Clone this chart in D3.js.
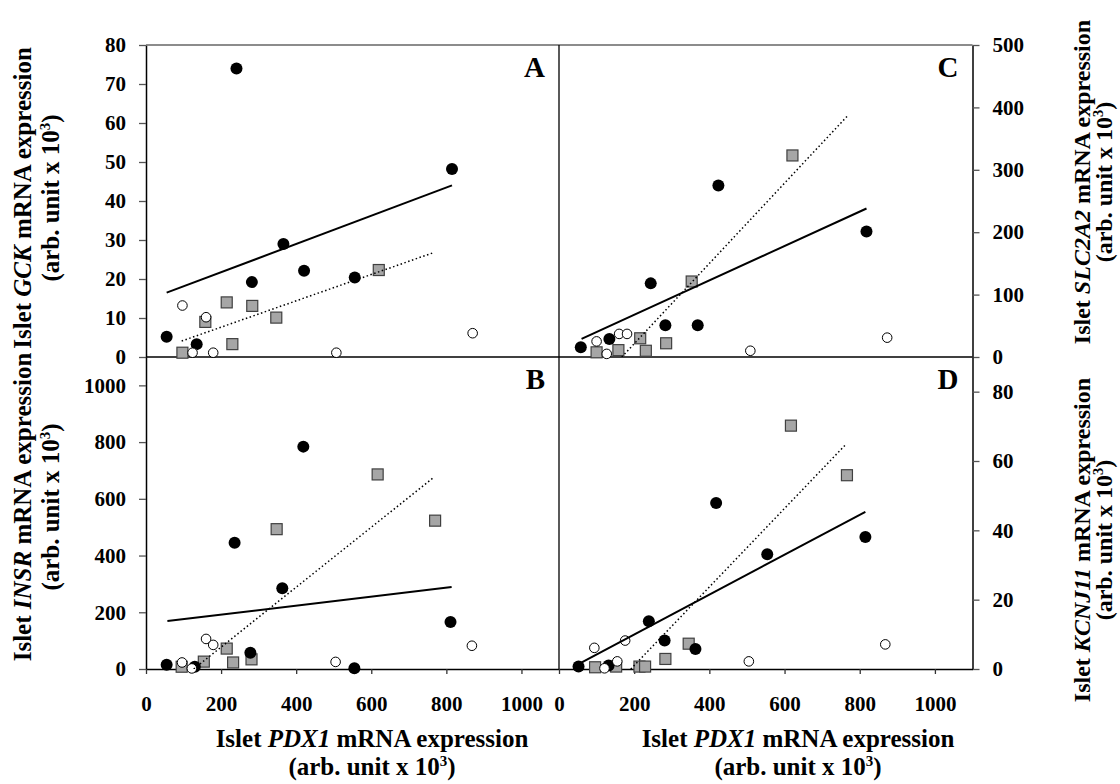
<!DOCTYPE html>
<html><head><meta charset="utf-8">
<script src="https://cdn.jsdelivr.net/npm/d3@7"></script>
<style>
body{margin:0;background:#fff}
text{font-family:"Liberation Serif","Times New Roman",serif;font-weight:bold;fill:#000}
</style>
</head><body>
<svg id="chart" width="1120" height="784"></svg>
<script>
// ---------- data ----------
const xTickValues = [0, 200, 400, 600, 800, 1000];
const gckTicks = [0, 10, 20, 30, 40, 50, 60, 70, 80];
const insrTicks = [0, 200, 400, 600, 800, 1000];
const slcTicks = [0, 100, 200, 300, 400, 500];
const kcnTicks = [0, 20, 40, 60, 80];

// Panel A: GCK vs PDX1
const gckBlack  = [[55,5.2],[135,3.3],[241,74],[282,19.2],[366,29],[421,22.1],[556,20.4],[815,48.2]];
const gckGray   = [[97,1.1],[158,9],[215,14],[230,3.3],[283,13.1],[347,10.1],[620,22.3]];
const gckOpen   = [[97,13.2],[124,1.1],[160,10.2],[179,1.1],[507,1.1],[870,6.1]];
const gckSolidFit  = [[55,16.5],[815,44]];
const gckDottedFit = [[95,4.1],[767,26.8]];

// Panel B: INSR vs PDX1
const insrBlack = [[55,15],[130,8],[236,445],[278,57],[363,285],[419,784],[555,3],[811,166]];
const insrGray  = [[95,8],[154,26],[215,72],[232,23],[281,34],[348,493],[617,686],[770,523]];
const insrOpen  = [[96,23],[122,2],[160,106],[179,85],[505,25],[868,82]];
const insrSolidFit  = [[57,169],[814,289]];
const insrDottedFit = [[127,0],[763,672]];

// Panel C: SLC2A2 vs PDX1
const slcBlack  = [[58,15.5],[134,29],[244,118],[283,51],[369,51],[424,275],[818,201]];
const slcGray   = [[100,7.5],[158,11],[216,30],[231,10],[285,22],[353,121],[621,323]];
const slcOpen   = [[100,25],[127,5],[160,37],[181,37],[509,10],[873,31]];
const slcSolidFit  = [[60,29],[818,238]];
const slcDottedFit = [[167,0],[770,388]];

// Panel D: KCNJ11 vs PDX1
const kcnBlack  = [[52,0.7],[132,1.0],[239,13.8],[281,8.2],[363,5.8],[418,47.9],[554,33.1],[815,38.1]];
const kcnGray   = [[96,0.5],[152,0.7],[214,0.7],[229,0.7],[283,2.9],[345,7.3],[617,70.2],[766,55.9]];
const kcnOpen   = [[94,6.1],[121,0.2],[155,2.2],[176,8.2],[505,2.2],[868,7.1]];
const kcnSolidFit  = [[58,1.8],[815,45.3]];
const kcnDottedFit = [[191,0],[765,65]];

// ---------- layout ----------
const svg = d3.select("#chart");
const L = 146, M = 559, R = 972.5, T = 45, H = 357, B = 669;
const xMax = 1100;

const panels = [
  {id:"A", x:[L,M], y:[H,T], dom:[0,80],   ticks:gckTicks,  side:"left",  bottom:false,
   black:gckBlack, gray:gckGray, open:gckOpen, solid:gckSolidFit, dotted:gckDottedFit},
  {id:"B", x:[L,M], y:[B,H], dom:[0,1100], ticks:insrTicks, side:"left",  bottom:true,
   black:insrBlack, gray:insrGray, open:insrOpen, solid:insrSolidFit, dotted:insrDottedFit},
  {id:"C", x:[M,R], y:[H,T], dom:[0,500],  ticks:slcTicks,  side:"right", bottom:false,
   black:slcBlack, gray:slcGray, open:slcOpen, solid:slcSolidFit, dotted:slcDottedFit},
  {id:"D", x:[M,R], y:[B,H], dom:[0,90],   ticks:kcnTicks,  side:"right", bottom:true,
   black:kcnBlack, gray:kcnGray, open:kcnOpen, solid:kcnSolidFit, dotted:kcnDottedFit}
];

const defs = svg.append("defs");

panels.forEach(p => {
  const x = d3.scaleLinear().domain([0, xMax]).range(p.x);
  const y = d3.scaleLinear().domain(p.dom).range(p.y);
  const g = svg.append("g");

  defs.append("clipPath").attr("id", "clip" + p.id)
    .append("rect").attr("x", p.x[0]).attr("y", p.y[1])
    .attr("width", p.x[1] - p.x[0]).attr("height", p.y[0] - p.y[1]);

  // vertical value axis
  const ax = (p.side === "left" ? d3.axisLeft(y) : d3.axisRight(y))
    .tickValues(p.ticks).tickSize(7).tickSizeOuter(0).tickPadding(13)
    .tickFormat(d3.format("d"));
  const ga = g.append("g")
    .attr("transform", `translate(${p.side === "left" ? p.x[0] : p.x[1]},0)`)
    .call(ax);
  ga.select(".domain").attr("stroke", "#000").attr("stroke-width", 1.5);
  ga.selectAll(".tick line").attr("stroke", "#555").attr("stroke-width", 1.3);
  ga.selectAll(".tick text").style("font-size", "21px");

  // horizontal axis
  if (p.bottom) {
    const bx = d3.axisBottom(x).tickValues(xTickValues).tickSize(5)
      .tickSizeOuter(0).tickPadding(22).tickFormat(d3.format("d"));
    const gb = g.append("g").attr("transform", `translate(0,${p.y[0]})`).call(bx);
    gb.select(".domain").attr("stroke", "#000").attr("stroke-width", 1.5);
    gb.selectAll(".tick line").attr("stroke", "#333").attr("stroke-width", 1.3);
    gb.selectAll(".tick text").style("font-size", "21px");
  } else {
    g.append("line").attr("x1", p.x[0]).attr("x2", p.x[1])
      .attr("y1", p.y[0]).attr("y2", p.y[0])
      .attr("stroke", "#000").attr("stroke-width", 1.5);
  }

  const plot = g.append("g");

  // gray squares
  plot.selectAll("rect.sq").data(p.gray).join("rect").attr("class", "sq")
    .attr("x", d => x(d[0]) - 5.5).attr("y", d => y(d[1]) - 5.5)
    .attr("width", 11).attr("height", 11)
    .attr("fill", "#a6a6a6").attr("stroke", "#404040").attr("stroke-width", 1.2);
  // black circles
  plot.selectAll("circle.bk").data(p.black).join("circle").attr("class", "bk")
    .attr("cx", d => x(d[0])).attr("cy", d => y(d[1])).attr("r", 6)
    .attr("fill", "#000");
  // open circles
  plot.selectAll("circle.op").data(p.open).join("circle").attr("class", "op")
    .attr("cx", d => x(d[0])).attr("cy", d => y(d[1])).attr("r", 4.8)
    .attr("fill", "#fff").attr("stroke", "#000").attr("stroke-width", 1);

  const line = d3.line().x(d => x(d[0])).y(d => y(d[1]));
  plot.append("path").datum(p.solid).attr("d", line)
    .attr("fill", "none").attr("stroke", "#000").attr("stroke-width", 2)
    .attr("clip-path", `url(#clip${p.id})`);
  plot.append("path").datum(p.dotted).attr("d", line)
    .attr("fill", "none").attr("stroke", "#000").attr("stroke-width", 1.5)
    .attr("stroke-dasharray", "1.5,2.5")
    .attr("clip-path", `url(#clip${p.id})`);

  // panel letter
  g.append("text").attr("x", p.x[1] - 14).attr("y", p.y[1] + 32)
    .attr("text-anchor", "end").style("font-size", "29px").text(p.id);
});

// frame lines: top, middle divider
svg.append("line").attr("x1", L).attr("x2", R).attr("y1", T).attr("y2", T)
  .attr("stroke", "#666").attr("stroke-width", 1.5);
svg.append("line").attr("x1", M).attr("x2", M).attr("y1", T).attr("y2", B)
  .attr("stroke", "#000").attr("stroke-width", 1.3);

// ---------- axis titles ----------
function title(sel, pre, gene, post) {
  sel.append("tspan").text(pre);
  sel.append("tspan").style("font-style", "italic").text(gene);
  sel.append("tspan").text(post);
}
function unitLine(sel, sz) {
  sel.append("tspan").text("(arb. unit x 10");
  sel.append("tspan").attr("dy", -9).style("font-size", (sz * 0.6) + "px").text("3");
  sel.append("tspan").attr("dy", 9).text(")");
}
function vTitle(xc, yc, gene, gap, sz) {
  const t1 = svg.append("text").attr("transform", `translate(${xc},${yc}) rotate(-90)`)
    .attr("text-anchor", "middle").style("font-size", sz + "px");
  title(t1, "Islet ", gene, " mRNA expression");
  const t2 = svg.append("text").attr("transform", `translate(${xc + gap},${yc}) rotate(-90)`)
    .attr("text-anchor", "middle").style("font-size", sz + "px");
  unitLine(t2, sz);
}
function hTitle(xc) {
  const t1 = svg.append("text").attr("x", xc).attr("y", 747)
    .attr("text-anchor", "middle").style("font-size", "25px");
  title(t1, "Islet ", "PDX1", " mRNA expression");
  const t2 = svg.append("text").attr("x", xc).attr("y", 775)
    .attr("text-anchor", "middle").style("font-size", "25px");
  unitLine(t2, 25);
}
vTitle(31, 198, "GCK", 28, 25);
vTitle(31, 507, "INSR", 28, 25);
vTitle(1090, 182, "SLC2A2", 22, 24);
vTitle(1090, 540, "KCNJ11", 22, 24);
hTitle(372);
hTitle(798);
</script>
</body></html>
